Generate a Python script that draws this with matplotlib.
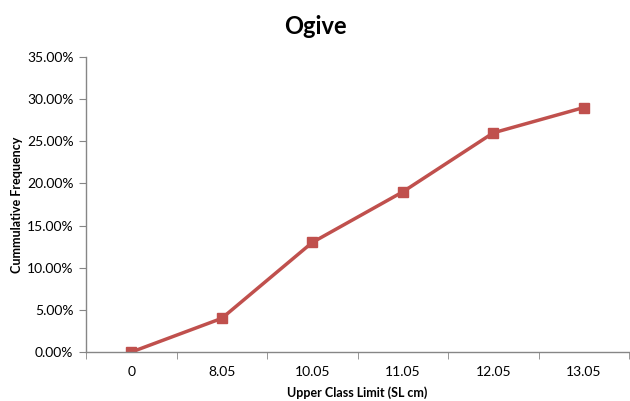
import matplotlib.pyplot as plt
import numpy as np

# data
upper_limits = ['0', '8.05', '10.05', '11.05', '12.05', '13.05']
cum_freq = [0.0, 4.0, 13.0, 19.0, 26.0, 29.0]  # percent
y_ticks = [0, 5, 10, 15, 20, 25, 30, 35]

plt.rcParams['font.family'] = ['Lato', 'DejaVu Sans']

fig = plt.figure(figsize=(6.3, 4.01), dpi=100)
ax = fig.add_axes([0.1365, 0.122, 0.862, 0.736])

x = np.arange(len(upper_limits))
ax.plot(x, cum_freq, color='#C0504D', lw=2.5, marker='s', markersize=7,
        markerfacecolor='#C0504D', markeredgecolor='#C0504D')

ax.set_xlim(-0.5, len(upper_limits) - 0.5)
ax.set_ylim(0, 35)

ax.set_xticks(x)
ax.set_xticklabels(upper_limits, fontsize=10)
ax.set_xticks(np.arange(-0.5, len(upper_limits)), minor=True)
ax.tick_params(axis='x', which='major', length=0, pad=10)
ax.tick_params(axis='x', which='minor', length=5, color='#868686', direction='out')

ax.set_yticks(y_ticks)
ax.set_yticklabels(['%.2f%%' % v for v in y_ticks], fontsize=10)
ax.tick_params(axis='y', length=5, color='#868686', direction='out', pad=4)

for s in ['top', 'right']:
    ax.spines[s].set_visible(False)
for s in ['left', 'bottom']:
    ax.spines[s].set_color('#868686')
    ax.spines[s].set_linewidth(1)

ax.set_xlabel('Upper Class Limit (SL cm)', fontsize=9, fontweight='bold', labelpad=6)
ax.set_ylabel('Cummulative Frequency', fontsize=9, fontweight='bold', labelpad=3)
fig.text(0.5, 0.935, 'Ogive', ha='center', va='center', fontsize=17, fontweight='bold')

fig.savefig('out.png', dpi=100)
